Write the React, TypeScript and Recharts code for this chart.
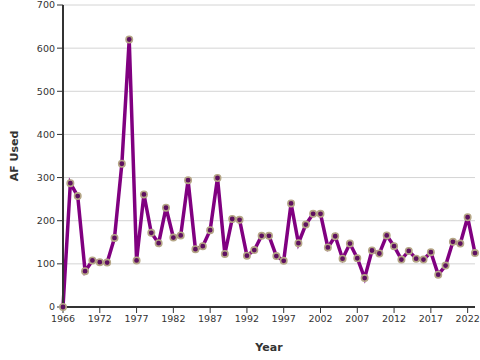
import { LineChart, Line, XAxis, YAxis, CartesianGrid } from "recharts";

const years = [
  1966, 1968, 1969, 1970, 1971, 1972, 1973, 1974, 1975, 1976, 1977, 1978, 1979, 1980,
  1981, 1982, 1983, 1984, 1985, 1986, 1987, 1988, 1989, 1990, 1991, 1992, 1993, 1994,
  1995, 1996, 1997, 1998, 1999, 2000, 2001, 2002, 2003, 2004, 2005, 2006, 2007, 2008,
  2009, 2010, 2011, 2012, 2013, 2014, 2015, 2016, 2017, 2018, 2019, 2020, 2021, 2022,
  2023,
];

const afUsed = [
  0, 287, 257, 83, 108, 104, 103, 160, 332, 620, 108, 261, 172, 148,
  230, 161, 166, 294, 134, 141, 178, 299, 123, 204, 202, 119, 132, 165,
  165, 118, 107, 240, 148, 191, 216, 216, 138, 164, 112, 147, 113, 67,
  131, 124, 166, 141, 110, 130, 112, 110, 127, 75, 96, 151, 147, 208,
  125,
];

const yTicks = [0, 100, 200, 300, 400, 500, 600, 700];

const data = years.map((year, i) => ({ year, value: afUsed[i] }));

const font = "DejaVu Sans";
const tickStyle = { fontFamily: font, fontSize: 9.5, fill: "#333" };

export default function App() {
  return (
    <div style={{ position: "absolute", left: 0, top: 0, width: 480, height: 360, background: "#fff" }}>
      <LineChart width={480} height={360} data={data} margin={{ top: 5, right: 5, bottom: 0, left: 0 }}>
        <CartesianGrid vertical={false} stroke="#d4d4d4" />
        <XAxis
          dataKey="year"
          interval={4}
          height={53}
          tick={tickStyle}
          tickSize={6}
          axisLine={{ stroke: "#333", strokeWidth: 2 }}
          tickLine={{ stroke: "#333" }}
          label={{ value: "Year", position: "insideBottom", offset: 9, style: { fontFamily: font, fontSize: 11, fontWeight: "bold", fill: "#333" } }}
        />
        <XAxis xAxisId="top" dataKey="year" orientation="top" height={0} tick={false} tickLine={false} axisLine={{ stroke: "#333", strokeWidth: 2 }} />
        <YAxis
          domain={[0, 700]}
          ticks={yTicks}
          width={63}
          tick={tickStyle}
          tickSize={6}
          axisLine={{ stroke: "#333", strokeWidth: 2 }}
          tickLine={{ stroke: "#333" }}
          label={{ value: "AF Used", angle: -90, position: "insideLeft", offset: 14, style: { textAnchor: "middle", fontFamily: font, fontSize: 11, fontWeight: "bold", fill: "#333" } }}
        />
        <YAxis yAxisId="right" orientation="right" width={0} tick={false} tickLine={false} axisLine={{ stroke: "#333", strokeWidth: 2 }} />
        <Line
          type="linear"
          dataKey="value"
          stroke="#800080"
          strokeWidth={3.5}
          dot={{ r: 3.2, fill: "#5e1060", stroke: "#b5a686", strokeWidth: 1.6 }}
          isAnimationActive={false}
        />
      </LineChart>
    </div>
  );
}
